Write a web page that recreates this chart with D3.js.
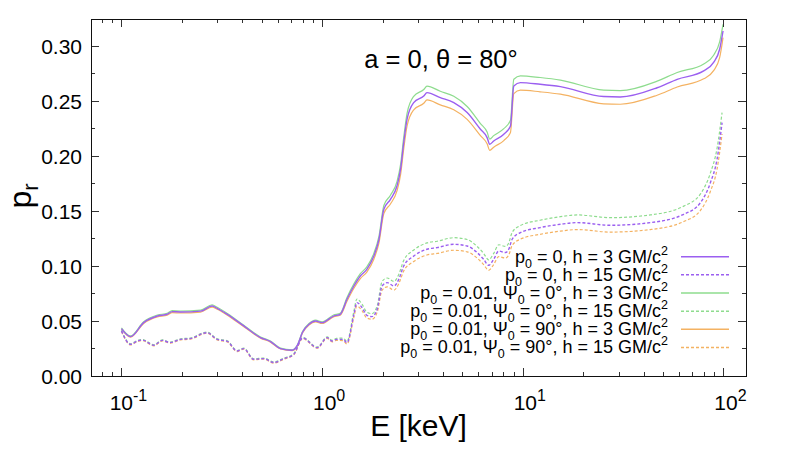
<!DOCTYPE html>
<html>
<head>
<meta charset="utf-8">
<script src="https://cdn.jsdelivr.net/npm/d3@7"></script>
<style>
  body { margin: 0; background: #fff; }
  svg { display: block; font-family: "Liberation Sans", Arial, sans-serif; }
</style>
</head>
<body>
<svg id="chart" width="790" height="452"></svg>
<script>
// energies (keV) for the h = 3 curves
const energySolid = [0.1, 0.111, 0.129, 0.151, 0.169, 0.179, 0.197, 0.248, 0.283, 0.30,
  0.337, 0.407, 0.493, 0.553, 0.62, 0.709, 0.75, 0.80, 0.86, 0.927,
  1.0, 1.14, 1.23, 1.33, 1.44, 1.55, 1.67, 1.81, 1.92, 2.03,
  2.19, 2.36, 2.46, 2.55, 2.65, 2.86, 3.21, 3.33, 3.88, 4.53,
  5.28, 6.15, 6.64, 6.84, 7.16, 8.04, 8.68, 9.02, 9.73, 12.2,
  15.4, 25.3, 30.6, 46.7, 58.8, 79.7, 89.3, 95.7, 99.5]

const solidP0 = [0.0431, 0.0358, 0.0485, 0.0545, 0.0561, 0.0585, 0.0582, 0.059, 0.0636, 0.0615,
  0.056, 0.0455, 0.0349, 0.0313, 0.0249, 0.0234, 0.0273, 0.040, 0.047, 0.05,
  0.0485, 0.0545, 0.0561, 0.0697, 0.0818, 0.0909, 0.097, 0.109, 0.1243, 0.1515,
  0.1606, 0.1727, 0.188, 0.212, 0.2334, 0.2485, 0.2545, 0.2576, 0.253, 0.2485,
  0.2395, 0.2243, 0.2167, 0.2106, 0.2136, 0.2197, 0.2273, 0.2636, 0.2667, 0.2652,
  0.263, 0.254, 0.2536, 0.262, 0.2697, 0.2773, 0.285, 0.297, 0.3136]

const solidPsi0 = [0.0438, 0.0364, 0.0493, 0.0554, 0.057, 0.0594, 0.0591, 0.0599, 0.0646, 0.0625,
  0.0569, 0.0462, 0.0355, 0.0318, 0.0254, 0.0238, 0.0277, 0.0406, 0.0477, 0.0508,
  0.0493, 0.0554, 0.057, 0.0713, 0.0837, 0.093, 0.0992, 0.1115, 0.1272, 0.155,
  0.1643, 0.1767, 0.1923, 0.2169, 0.2388, 0.2542, 0.2604, 0.2635, 0.2588, 0.2542,
  0.245, 0.2295, 0.2217, 0.2154, 0.2185, 0.2248, 0.2325, 0.2697, 0.2728, 0.2713,
  0.269, 0.2598, 0.2594, 0.268, 0.2759, 0.2837, 0.2916, 0.3038, 0.3197]

const solidPsi90 = [0.0425, 0.0353, 0.0478, 0.0537, 0.0553, 0.0576, 0.0573, 0.0581, 0.0626, 0.0606,
  0.0552, 0.0448, 0.0344, 0.0308, 0.0245, 0.023, 0.0269, 0.0394, 0.0463, 0.0492,
  0.0477, 0.0537, 0.0552, 0.0679, 0.0797, 0.0885, 0.0945, 0.1062, 0.1211, 0.1476,
  0.1564, 0.1682, 0.1831, 0.2065, 0.2273, 0.242, 0.2479, 0.2509, 0.2464, 0.242,
  0.2333, 0.2185, 0.2111, 0.2051, 0.208, 0.214, 0.2214, 0.2567, 0.2598, 0.2583,
  0.2562, 0.2474, 0.247, 0.2552, 0.2627, 0.2701, 0.2776, 0.2893, 0.3076]

// energies (keV) for the h = 15 curves
const energyDashed = [0.1, 0.111, 0.12, 0.127, 0.145, 0.16, 0.175, 0.197, 0.22, 0.267,
  0.30, 0.337, 0.377, 0.407, 0.456, 0.512, 0.575, 0.644, 0.722, 0.80,
  0.944, 1.06, 1.12, 1.18, 1.27, 1.33, 1.44, 1.49, 1.58, 1.67,
  1.77, 1.88, 1.99, 2.11, 2.28, 2.41, 2.55, 2.86, 3.33, 3.74,
  4.53, 5.28, 5.92, 6.38, 6.76, 7.16, 7.59, 8.19, 8.51, 8.85,
  9.73, 12.2, 15.4, 18.7, 27.3, 43.2, 63.4, 76.8, 86.1, 92.9, 98.4]

const dashedP0 = [0.041, 0.0288, 0.0318, 0.0327, 0.0279, 0.0324, 0.0303, 0.0333, 0.034, 0.0394,
  0.0333, 0.0315, 0.0227, 0.0249, 0.0152, 0.0158, 0.0122, 0.0158, 0.0197, 0.0345,
  0.0258, 0.0349, 0.0318, 0.0333, 0.0333, 0.0303, 0.0561, 0.0667, 0.0622, 0.0552,
  0.054, 0.0606, 0.0818, 0.0849, 0.0818, 0.0879, 0.1, 0.109, 0.1152, 0.1167,
  0.1197, 0.1182, 0.1122, 0.1061, 0.1006, 0.1061, 0.1136, 0.1122, 0.1152, 0.1243,
  0.1303, 0.1349, 0.1379, 0.1394, 0.137, 0.1394, 0.147, 0.1576, 0.1758, 0.197, 0.2303]

const dashedPsi0 = [0.0415, 0.0293, 0.0323, 0.0332, 0.0284, 0.0329, 0.0308, 0.0338, 0.0345, 0.0399,
  0.0338, 0.032, 0.0232, 0.0254, 0.0157, 0.0163, 0.0127, 0.0163, 0.0202, 0.035,
  0.0263, 0.0356, 0.0325, 0.0342, 0.0344, 0.0315, 0.0589, 0.070, 0.0653, 0.058,
  0.0567, 0.0636, 0.0859, 0.0891, 0.0859, 0.0923, 0.105, 0.1145, 0.121, 0.1225,
  0.1257, 0.1241, 0.1178, 0.1114, 0.1056, 0.1114, 0.1193, 0.1178, 0.121, 0.1305,
  0.1368, 0.1416, 0.1448, 0.1464, 0.1439, 0.1464, 0.1544, 0.1655, 0.1846, 0.2069, 0.2394]

const dashedPsi90 = [0.0405, 0.0283, 0.0313, 0.0322, 0.0274, 0.0319, 0.0298, 0.0328, 0.0335, 0.0389,
  0.0328, 0.031, 0.0222, 0.0244, 0.0147, 0.0153, 0.0117, 0.0153, 0.0192, 0.034,
  0.0253, 0.0342, 0.0311, 0.0324, 0.0322, 0.0291, 0.0536, 0.0637, 0.0594, 0.0527,
  0.0516, 0.0579, 0.0781, 0.0811, 0.0781, 0.0839, 0.0955, 0.1041, 0.11, 0.1114,
  0.1143, 0.1129, 0.1072, 0.1013, 0.0961, 0.1013, 0.1085, 0.1072, 0.11, 0.1187,
  0.1244, 0.1288, 0.1317, 0.1331, 0.1308, 0.1331, 0.1404, 0.1505, 0.1679, 0.1881, 0.22]

const yTicks = [0, 0.05, 0.10, 0.15, 0.20, 0.25, 0.30]
const xTickExps = [-1, 0, 1, 2]

const purple = "#9b5ff0", green = "#8edc8e", orange = "#f4b262"

// legend order as in the plot
const series = [
  { energy: energySolid, values: solidP0, color: purple, dash: null, label: ["p", "0", " = 0, h = 3 GM/c"] },
  { energy: energyDashed, values: dashedP0, color: purple, dash: "3,2", label: ["p", "0", " = 0, h = 15 GM/c"] },
  { energy: energySolid, values: solidPsi0, color: green, dash: null, label: ["p", "0", " = 0.01, ", "Ψ", "0", " = 0°, h = 3 GM/c"] },
  { energy: energyDashed, values: dashedPsi0, color: green, dash: "3,2", label: ["p", "0", " = 0.01, ", "Ψ", "0", " = 0°, h = 15 GM/c"] },
  { energy: energySolid, values: solidPsi90, color: orange, dash: null, label: ["p", "0", " = 0.01, ", "Ψ", "0", " = 90°, h = 3 GM/c"] },
  { energy: energyDashed, values: dashedPsi90, color: orange, dash: "3,2", label: ["p", "0", " = 0.01, ", "Ψ", "0", " = 90°, h = 15 GM/c"] }
]

const svg = d3.select("#chart")
const plotLeft = 91, plotRight = 746, plotTop = 19, plotBottom = 376

const x = d3.scaleLog().domain([0.0705, 129.5]).range([plotLeft, plotRight])
const y = d3.scaleLinear().domain([0, 0.3245]).range([plotBottom, plotTop])

svg.append("defs").append("clipPath").attr("id", "plotclip")
  .append("rect").attr("x", plotLeft).attr("y", plotTop)
  .attr("width", plotRight - plotLeft).attr("height", plotBottom - plotTop)

// curves
const line = d3.line()
  .x(d => x(d[0]))
  .y(d => y(d[1]))
  .curve(d3.curveMonotoneX)

const plot = svg.append("g").attr("clip-path", "url(#plotclip)")
// draw in reverse so purple sits on top
series.slice().reverse().forEach(s => {
  plot.append("path")
    .datum(s.energy.map((e, i) => [e, s.values[i]]))
    .attr("d", line)
    .attr("fill", "none")
    .attr("stroke", s.color)
    .attr("stroke-width", s.color === purple ? 1.4 : 1.2)
    .attr("stroke-dasharray", s.dash)
})

// ticks (inward, mirrored on all sides)
const ticks = svg.append("g").attr("stroke", "#333").attr("stroke-width", 1)
const crisp = v => Math.round(v) + 0.5
const xMinor = x.ticks().filter(t => !xTickExps.some(p => Math.abs(t - Math.pow(10, p)) < 1e-9))
xMinor.forEach(t => {
  const px = crisp(x(t))
  ticks.append("line").attr("x1", px).attr("x2", px).attr("y1", plotBottom).attr("y2", plotBottom - 4)
  ticks.append("line").attr("x1", px).attr("x2", px).attr("y1", plotTop).attr("y2", plotTop + 4)
})
xTickExps.forEach(p => {
  const px = crisp(x(Math.pow(10, p)))
  ticks.append("line").attr("x1", px).attr("x2", px).attr("y1", plotBottom).attr("y2", plotBottom - 8)
  ticks.append("line").attr("x1", px).attr("x2", px).attr("y1", plotTop).attr("y2", plotTop + 8)
})
const yMinor = d3.range(0.025, 0.32, 0.05)
yMinor.forEach(t => {
  const py = crisp(y(t))
  ticks.append("line").attr("x1", plotLeft).attr("x2", plotLeft + 4).attr("y1", py).attr("y2", py)
  ticks.append("line").attr("x1", plotRight).attr("x2", plotRight - 4).attr("y1", py).attr("y2", py)
})
yTicks.forEach(t => {
  const py = crisp(y(t))
  ticks.append("line").attr("x1", plotLeft).attr("x2", plotLeft + 8).attr("y1", py).attr("y2", py)
  ticks.append("line").attr("x1", plotRight).attr("x2", plotRight - 8).attr("y1", py).attr("y2", py)
})

// frame
svg.append("rect")
  .attr("x", plotLeft + 0.5).attr("y", plotTop + 0.5)
  .attr("width", plotRight - plotLeft).attr("height", plotBottom - plotTop)
  .attr("fill", "none").attr("stroke", "#111").attr("stroke-width", 1)

// tick labels
svg.append("g").selectAll("text")
  .data(yTicks).enter().append("text")
  .attr("x", 82).attr("y", d => y(d)).attr("dy", "0.36em")
  .attr("text-anchor", "end")
  .style("font-size", "21px")
  .text(d => d3.format(".2f")(d))

const xl = svg.append("g").selectAll("text")
  .data(xTickExps).enter().append("text")
  .attr("x", d => x(Math.pow(10, d)) + 7).attr("y", 410)
  .attr("text-anchor", "middle")
  .style("font-size", "21px")
xl.append("tspan").text("10")
xl.append("tspan").attr("dy", -9).style("font-size", "16px").text(d => d < 0 ? "-" + Math.abs(d) : d)

// axis titles
svg.append("text")
  .attr("x", (plotLeft + plotRight) / 2).attr("y", 436)
  .attr("text-anchor", "middle")
  .style("font-size", "30px")
  .text("E [keV]")

const yl = svg.append("text")
  .attr("transform", "translate(31,196) rotate(-90)")
  .attr("text-anchor", "middle")
  .style("font-size", "32px")
yl.append("tspan").text("p")
yl.append("tspan").attr("dy", 7).style("font-size", "22px").text("r")

svg.append("text")
  .attr("x", 441).attr("y", 68)
  .attr("text-anchor", "middle")
  .style("font-size", "25.5px")
  .text("a = 0, θ = 80°")

// legend
const legendY = d3.range(series.length).map(i => 256.7 + i * 18.15)
series.forEach((s, i) => {
  const ly = legendY[i]
  svg.append("line")
    .attr("x1", 681).attr("x2", 729).attr("y1", ly).attr("y2", ly)
    .attr("stroke", s.color).attr("stroke-width", 1.5)
    .attr("stroke-dasharray", s.dash)
  const t = svg.append("text")
    .attr("x", 668).attr("y", ly + 6)
    .attr("text-anchor", "end")
    .style("font-size", "18px")
  let sub = false
  s.label.forEach((part, k) => {
    const isSub = part === "0" && k > 0 && (s.label[k - 1] === "p" || s.label[k - 1] === "Ψ")
    const ts = t.append("tspan").text(part)
    if (isSub) { ts.attr("dy", 5).style("font-size", "12.5px"); sub = true }
    else if (sub) { ts.attr("dy", -5); sub = false }
  })
  t.append("tspan").attr("dy", -8).style("font-size", "12.5px").text("2")
})
</script>
</body>
</html>
